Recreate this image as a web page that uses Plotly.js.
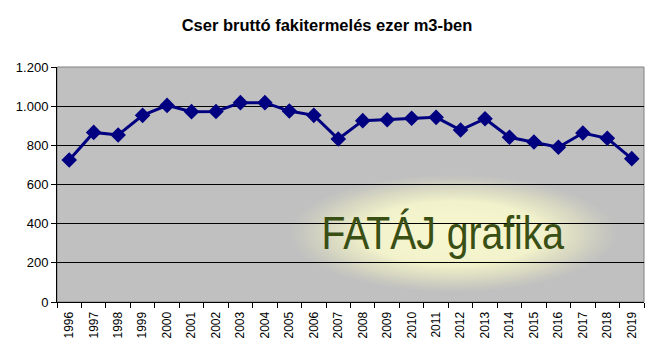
<!DOCTYPE html>
<html>
<head>
<meta charset="utf-8">
<script src="https://cdn.plot.ly/plotly-3.0.1.min.js"></script>
<style>html,body{margin:0;padding:0;background:#fff;}#chart{width:658px;height:355px;}</style>
</head>
<body>
<div id="chart"></div>
<script>
const years = ["1996","1997","1998","1999","2000","2001","2002","2003","2004","2005","2006","2007","2008","2009","2010","2011","2012","2013","2014","2015","2016","2017","2018","2019"];
const values = [725, 866, 853, 953, 1004, 972, 973, 1018, 1018, 975, 953, 832, 926, 931, 938, 943, 878, 936, 841, 817, 790, 863, 836, 732];
const yTickVals = [0, 200, 400, 600, 800, 1000, 1200];
const yTickText = ["0", "200", "400", "600", "800", "1.000", "1.200"];

const glowSvg = '<svg xmlns="http://www.w3.org/2000/svg" width="400" height="200" viewBox="0 0 400 200">' +
  '<defs><radialGradient id="g" cx="50%" cy="50%" r="50%">' +
  '<stop offset="0%" stop-color="#f8f8d0" stop-opacity="1"/>' +
  '<stop offset="55%" stop-color="#f4f4cc" stop-opacity="0.95"/>' +
  '<stop offset="78%" stop-color="#ebebc4" stop-opacity="0.55"/>' +
  '<stop offset="100%" stop-color="#e0e0c0" stop-opacity="0"/>' +
  '</radialGradient></defs><ellipse cx="200" cy="100" rx="200" ry="100" fill="url(#g)"/></svg>';
const glowSrc = 'data:image/svg+xml;charset=utf-8,' + encodeURIComponent(glowSvg);

const trace = {
  x: years,
  y: values,
  type: 'scatter',
  mode: 'lines+markers',
  line: {color: '#000080', width: 3},
  marker: {symbol: 'diamond', size: 12, color: '#000080'},
  hoverinfo: 'x+y'
};

const layout = {
  width: 658,
  height: 355,
  margin: {l: 57, r: 14, t: 67, b: 53},
  paper_bgcolor: '#ffffff',
  plot_bgcolor: '#c0c0c0',
  showlegend: false,
  title: {
    text: '<b>Cser bruttó fakitermelés ezer m3-ben</b>',
    font: {family: 'Liberation Sans, Arial, sans-serif', size: 16.5, color: '#000000'},
    x: 0.497, xanchor: 'center', y: 0.93, yanchor: 'middle', yref: 'container'
  },
  xaxis: {
    type: 'category',
    range: [-0.5, 23.5],
    tickson: 'boundaries',
    ticks: 'outside',
    ticklen: 5,
    tickcolor: '#000',
    tickangle: -90,
    ticklabelstandoff: 4,
    showgrid: false,
    showline: true,
    linecolor: '#000',
    linewidth: 1,
    zeroline: false,
    tickfont: {family: 'Liberation Sans, Arial, sans-serif', size: 12, color: '#000'},
    fixedrange: true
  },
  yaxis: {
    range: [0, 1200],
    tickvals: yTickVals,
    ticktext: yTickText,
    ticks: 'outside',
    ticklen: 5,
    tickcolor: '#000',
    showgrid: true,
    gridcolor: '#000000',
    gridwidth: 1,
    showline: true,
    linecolor: '#000',
    linewidth: 1,
    zeroline: false,
    tickfont: {family: 'Liberation Sans, Arial, sans-serif', size: 13, color: '#000'},
    fixedrange: true
  },
  shapes: [
    {type: 'rect', xref: 'paper', yref: 'paper', x0: 0, x1: 1, y0: 0, y1: 1,
     line: {color: '#808080', width: 1}, fillcolor: 'rgba(0,0,0,0)', layer: 'below'}
  ],
  images: [
    {source: glowSrc, xref: 'x', yref: 'y', x: 9.0, y: 650, sizex: 13.4, sizey: 600,
     sizing: 'stretch', xanchor: 'left', yanchor: 'top', layer: 'below', opacity: 1}
  ],
  annotations: [
    {text: 'FATÁJ grafika', xref: 'paper', yref: 'paper', x: 0.657, y: 0.295,
     xanchor: 'center', yanchor: 'middle', showarrow: false,
     font: {family: 'Liberation Sans, Arial, sans-serif', size: 46, color: '#3a4f14'}}
  ]
};

Plotly.newPlot('chart', [trace], layout, {displayModeBar: false, staticPlot: true}).then(function (gd) {
  const t = gd.querySelector('.annotation-text');
  if (t) {
    const bb = t.getBBox();
    const cx = bb.x + bb.width / 2;
    const prev = t.getAttribute('transform') || '';
    t.setAttribute('transform', prev + ' translate(' + cx + ',0) scale(0.85,1) translate(' + (-cx) + ',0)');
  }
});
</script>
</body>
</html>
